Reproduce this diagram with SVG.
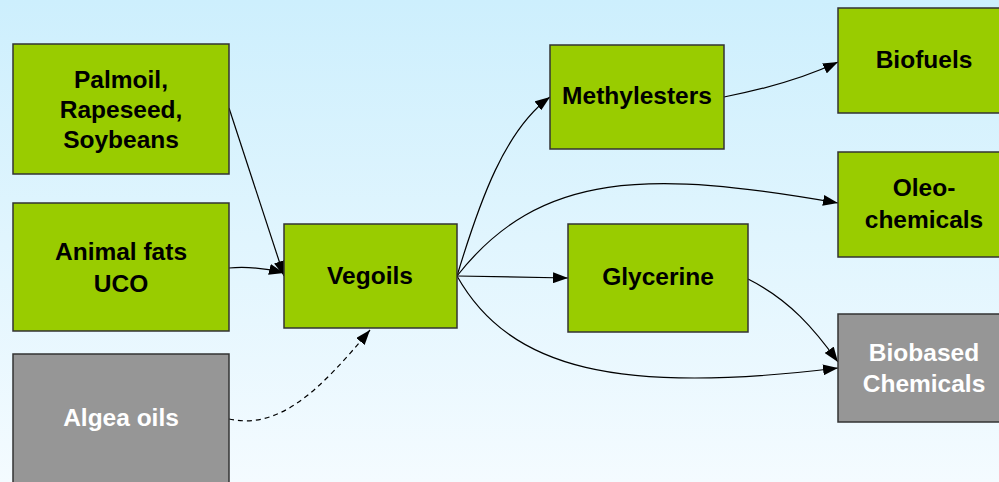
<svg xmlns="http://www.w3.org/2000/svg" width="999" height="482" viewBox="0 0 999 482">
<defs>
<linearGradient id="bg" x1="0" y1="0" x2="0" y2="1">
<stop offset="0" stop-color="#cdeffd"/>
<stop offset="1" stop-color="#f4fbff"/>
</linearGradient>
<marker id="ah" viewBox="0 0 15 11" refX="15" refY="5.5" markerWidth="15" markerHeight="11" markerUnits="userSpaceOnUse" orient="auto">
<path d="M0,0 L15,5.5 L0,11 Z" fill="#000"/>
</marker>
<style>
.g{fill:#99cc00;stroke:#333;stroke-width:1.5}
.y{fill:#969696;stroke:#333;stroke-width:1.5}
.t{font-family:"Liberation Sans",Arial,sans-serif;font-weight:bold;font-size:24.5px;text-anchor:middle}
.tb{fill:#000}
.tw{fill:#fff}
.c{fill:none;stroke:#000;stroke-width:1.2;marker-end:url(#ah)}
.d{stroke-dasharray:5,4}
</style>
</defs>
<rect width="999" height="482" fill="url(#bg)"/>
<g id="connectors">
<path class="c" d="M229,108 L284,276"/>
<path class="c" d="M229,268 C250,266 268,269 284,273"/>
<path class="c d" d="M229,419 C280,430 320,390 370,330"/>
<path class="c" d="M457,276 C480,200 505,130 550,97"/>
<path class="c" d="M457,276 C540,170 650,170 838,203"/>
<path class="c" d="M457,276 L568,278"/>
<path class="c" d="M457,276 C510,370 620,395 838,368"/>
<path class="c" d="M748,279 C790,300 815,330 838,362"/>
<path class="c" d="M724,97 C760,90 800,80 838,62"/>
</g>
<g id="palmoil">
<rect class="g" x="13" y="44" width="216" height="130"/>
<text class="t tb" x="121" y="88">Palmoil,</text>
<text class="t tb" x="121" y="118">Rapeseed,</text>
<text class="t tb" x="121" y="148">Soybeans</text>
</g>
<g id="animalfats">
<rect class="g" x="13" y="203" width="216" height="128"/>
<text class="t tb" x="121" y="260">Animal fats</text>
<text class="t tb" x="121" y="292">UCO</text>
</g>
<g id="algea">
<rect class="y" x="13" y="354" width="216" height="140"/>
<text class="t tw" x="121" y="426">Algea oils</text>
</g>
<g id="vegoils">
<rect class="g" x="284" y="224" width="173" height="104"/>
<text class="t tb" x="370" y="284">Vegoils</text>
</g>
<g id="methylesters">
<rect class="g" x="550" y="45" width="174" height="104"/>
<text class="t tb" x="637" y="104">Methylesters</text>
</g>
<g id="glycerine">
<rect class="g" x="568" y="224" width="180" height="108"/>
<text class="t tb" x="658" y="285">Glycerine</text>
</g>
<g id="biofuels">
<rect class="g" x="838" y="8" width="170" height="105"/>
<text class="t tb" x="924" y="68">Biofuels</text>
</g>
<g id="oleochemicals">
<rect class="g" x="838" y="152" width="170" height="105"/>
<text class="t tb" x="924" y="196">Oleo-</text>
<text class="t tb" x="924" y="228">chemicals</text>
</g>
<g id="biobased">
<rect class="y" x="838" y="314" width="170" height="108"/>
<text class="t tw" x="924" y="361">Biobased</text>
<text class="t tw" x="924" y="392">Chemicals</text>
</g>
</svg>
